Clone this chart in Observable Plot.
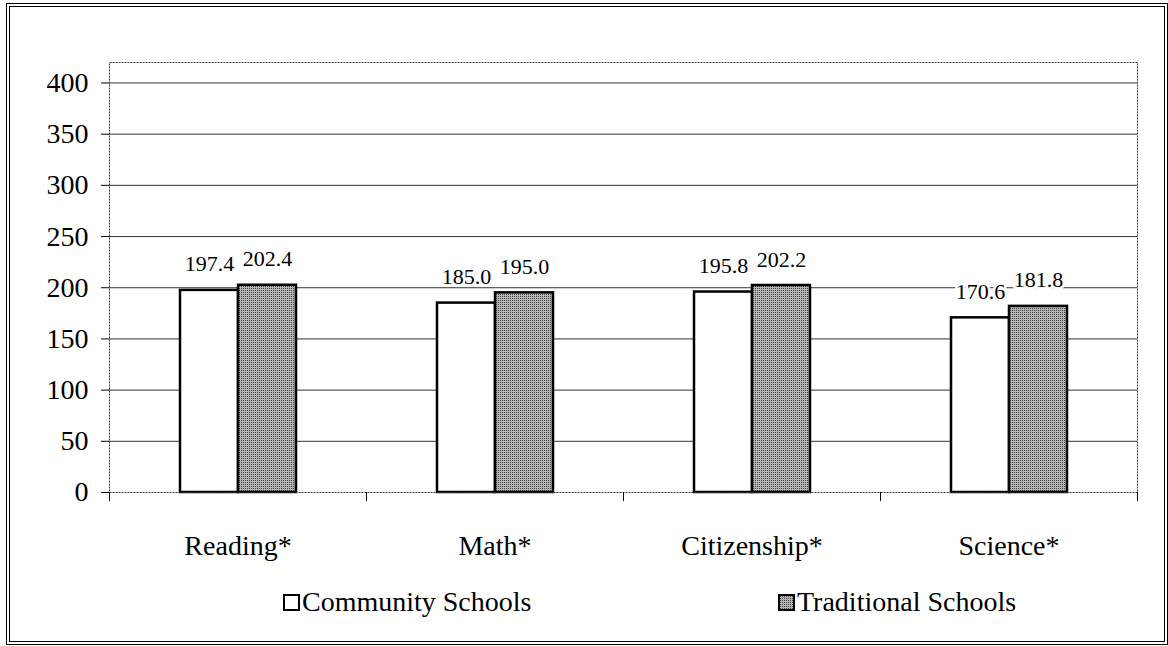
<!DOCTYPE html>
<html>
<head>
<meta charset="utf-8">
<script src="https://cdn.jsdelivr.net/npm/d3@7"></script>
<script src="https://cdn.jsdelivr.net/npm/@observablehq/plot@0.6"></script>
<style>
  html, body { margin: 0; padding: 0; background: #fff; }
  #wrap { position: relative; width: 1168px; height: 646px; overflow: hidden; font-family: "Liberation Serif", "Times New Roman", serif; }
  #border { position: absolute; left: 6px; top: 3px; width: 1154px; height: 634px; border: 4px double #000; }
  #chart { position: absolute; left: 0; top: 0; }
  #legend { position: absolute; top: 585px; left: 0; width: 1168px; height: 34px; font-size: 28px; color: #000; }
  .item { position: absolute; height: 34px; display: flex; align-items: center; white-space: nowrap; }
  .item svg { margin-right: 2px; }
</style>
</head>
<body>
<div id="wrap">
  <div id="border"></div>
  <div id="chart"></div>
  <div id="legend"></div>
</div>
<script>
// Mean scale scores by subject, community vs. traditional schools
const categories = ["Reading*", "Math*", "Citizenship*", "Science*"];
const series = ["Community Schools", "Traditional Schools"];
const community = [197.4, 185.0, 195.8, 170.6];
const traditional = [202.4, 195.0, 202.2, 181.8];
const yTicks = [0, 50, 100, 150, 200, 250, 300, 350, 400];

const data = categories.flatMap((category, i) => [
  {category, series: series[0], value: community[i]},
  {category, series: series[1], value: traditional[i]}
]);

const plot = Plot.plot({
  width: 1168,
  height: 575,
  marginLeft: 108,
  marginRight: 31,
  marginTop: 62,
  marginBottom: 83,
  style: {fontFamily: "'Liberation Serif', 'Times New Roman', serif", fontSize: "28px", color: "#000", background: "transparent", overflow: "visible"},
  fx: {domain: categories, padding: 0, label: null},
  x: {domain: series, paddingInner: 0, paddingOuter: 1.215, axis: null},
  y: {domain: [0, 420], axis: null},
  color: {domain: series, range: ["#ffffff", "url(#stipple)"]},
  marks: [
    Plot.ruleY(yTicks.filter(v => v > 0), {stroke: "#333", strokeWidth: 1}),
    Plot.barY(data, {fx: "category", x: "series", y: "value", fill: "series", stroke: "#000", strokeWidth: 2.5}),
    Plot.text(data, {
      fx: "category", x: "series", y: "value",
      text: d => d.value.toFixed(1),
      dy: -26, fontSize: 22, fill: "#000", stroke: "#fff", strokeWidth: 5
    }),
    Plot.frame({stroke: "#333", strokeDasharray: "2,1", facet: "super"}),
    Plot.axisY({ticks: yTicks, tickSize: 8, tickPadding: 13, label: null, fontSize: 28, stroke: "#000"}),
    Plot.axisFx({anchor: "bottom", tickSize: 0, tickPadding: 43, label: null, fontSize: 28}),
    Plot.frame({anchor: "left", insetTop: 430, insetBottom: -8, stroke: "#000"}),
    Plot.frame({anchor: "right", insetTop: 430, insetBottom: -8, stroke: "#000"})
  ]
});

// halftone fill for the traditional-school bars
function addStipple(svgSel, id) {
  const p = svgSel.append("defs").append("pattern")
    .attr("id", id).attr("width", 2).attr("height", 2)
    .attr("patternUnits", "userSpaceOnUse");
  p.append("rect").attr("width", 2).attr("height", 2).attr("fill", "#b4b4b4");
  p.append("rect").attr("width", 1).attr("height", 1).attr("fill", "#4a4a4a");
}
addStipple(d3.select(plot), "stipple");
document.getElementById("chart").appendChild(plot);

// legend
const legend = d3.select("#legend");
const legendX = [283, 778];
series.forEach((name, i) => {
  const item = legend.append("div").attr("class", "item").style("left", legendX[i] + "px").style("top", "0px");
  const sw = item.append("svg").attr("width", 17).attr("height", 17);
  if (i === 1) addStipple(sw, "stipple-legend");
  sw.append("rect").attr("x", 1).attr("y", 1).attr("width", 15).attr("height", 15)
    .attr("fill", i === 0 ? "#fff" : "url(#stipple-legend)").attr("stroke", "#000").attr("stroke-width", 2);
  item.append("span").text(name);
});
</script>
</body>
</html>
